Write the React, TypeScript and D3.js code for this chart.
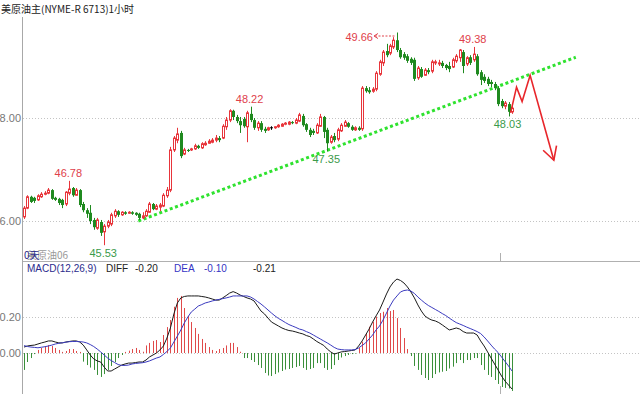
import React from 'react';
import * as d3 from 'd3';

const W = 640;
const H = 394;

const OPEN = [46.08,46.25,46.47,46.45,46.41,46.47,46.52,46.54,46.60,46.45,
46.43,46.41,46.33,46.54,46.64,46.50,46.60,46.33,46.21,46.16,
46.02,45.86,45.98,45.79,45.90,45.94,46.10,46.19,46.12,46.17,
46.16,46.17,46.16,46.14,46.06,46.10,46.17,46.33,46.23,46.27,
46.29,46.49,46.60,47.38,47.57,47.71,47.30,47.38,47.38,47.40,
47.46,47.42,47.48,47.51,47.53,47.57,47.61,47.61,47.83,47.96,
48.14,48.02,47.94,47.98,47.83,48.08,47.96,47.81,47.90,47.79,
47.77,47.81,47.81,47.83,47.84,47.88,47.88,47.92,47.90,47.94,
48.04,47.88,47.77,47.75,47.71,47.84,48.02,47.77,47.53,47.65,
47.59,47.75,47.84,47.90,47.83,47.77,47.81,47.79,48.58,48.54,
48.52,48.56,48.85,49.07,49.30,49.26,49.38,49.51,49.32,49.24,
49.20,49.15,49.13,48.78,48.95,48.83,48.93,48.91,49.07,49.05,
49.07,49.03,49.01,48.99,49.11,49.17,49.28,49.05,49.18,49.13,
49.20,48.89,48.80,48.76,48.70,48.66,48.58,48.33,48.23,48.27,
48.12];

const CLOSE = [46.25,46.47,46.37,46.39,46.49,46.52,46.54,46.60,46.43,46.41,
46.35,46.31,46.56,46.62,46.50,46.60,46.31,46.21,46.14,46.00,
45.88,46.02,45.77,45.90,45.98,46.12,46.19,46.12,46.17,46.14,
46.17,46.14,46.12,46.06,46.10,46.19,46.33,46.23,46.29,46.31,
46.50,46.60,47.38,47.61,47.69,47.26,47.38,47.36,47.40,47.46,
47.42,47.50,47.51,47.55,47.57,47.61,47.57,47.84,47.96,48.14,
48.02,47.94,47.86,47.84,48.10,47.96,47.81,47.90,47.77,47.75,
47.81,47.81,47.83,47.86,47.88,47.90,47.92,47.90,47.96,48.06,
47.86,47.77,47.67,47.71,47.86,48.02,47.73,47.51,47.63,47.57,
47.77,47.86,47.92,47.83,47.77,47.81,47.77,48.58,48.52,48.50,
48.56,48.87,49.09,49.28,49.22,49.40,49.51,49.32,49.18,49.17,
49.11,49.07,48.76,48.97,48.80,48.93,48.89,49.09,49.09,49.07,
49.01,48.97,48.95,49.13,49.20,49.32,49.01,49.17,49.07,49.24,
48.85,48.74,48.72,48.66,48.66,48.58,48.27,48.23,48.29,48.12,
48.19];

const HIGH = [46.29,46.50,46.49,46.47,46.52,46.56,46.58,46.64,46.62,46.47,
46.45,46.43,46.58,46.78,46.66,46.64,46.62,46.37,46.25,46.31,
46.06,46.06,46.02,45.94,46.02,46.16,46.23,46.21,46.19,46.19,
46.19,46.19,46.17,46.16,46.17,46.23,46.37,46.35,46.33,46.35,
46.54,46.66,47.44,47.65,47.81,47.75,47.42,47.40,47.42,47.50,
47.48,47.53,47.55,47.59,47.61,47.67,47.65,47.88,48.02,48.17,
48.16,48.06,48.02,48.02,48.14,48.22,48.00,47.94,47.94,47.83,
47.83,47.84,47.84,47.88,47.90,47.92,47.94,47.94,48.00,48.10,
48.08,47.90,47.81,47.79,47.90,48.08,48.04,47.81,47.67,47.71,
47.81,47.90,47.96,47.92,47.86,47.84,47.84,48.62,48.62,48.60,
48.60,48.91,49.13,49.32,49.44,49.44,49.57,49.66,49.36,49.28,
49.24,49.18,49.17,49.01,48.99,48.97,48.97,49.13,49.13,49.13,
49.11,49.05,49.09,49.17,49.24,49.34,49.32,49.20,49.22,49.38,
49.24,48.93,48.85,48.80,48.74,48.70,48.62,48.37,48.33,48.31,
48.23];

const LOW = [46.04,46.23,46.35,46.35,46.39,46.45,46.50,46.52,46.41,46.39,
46.31,46.25,46.29,46.50,46.47,46.49,46.27,46.17,46.06,45.94,
45.83,45.83,45.71,45.53,45.86,45.90,46.06,46.08,46.10,46.12,
46.14,46.12,46.10,46.02,46.04,46.08,46.16,46.21,46.21,46.19,
46.27,46.45,46.56,47.34,47.51,47.22,47.28,47.34,47.36,47.38,
47.40,47.40,47.46,47.50,47.51,47.53,47.53,47.59,47.77,47.92,
47.96,47.90,47.71,47.81,47.53,47.92,47.77,47.75,47.73,47.71,
47.75,47.77,47.79,47.81,47.83,47.86,47.86,47.88,47.88,47.92,
47.83,47.73,47.63,47.67,47.69,47.83,47.61,47.35,47.50,47.53,
47.55,47.73,47.83,47.81,47.75,47.75,47.75,47.75,48.49,48.47,
48.49,48.52,48.82,49.01,49.18,49.22,49.34,49.28,49.15,49.13,
49.07,49.03,48.72,48.74,48.78,48.82,48.85,48.87,49.03,49.01,
48.97,48.93,48.89,48.97,49.07,49.09,48.87,49.01,49.03,49.09,
48.82,48.64,48.68,48.62,48.60,48.54,48.23,48.19,48.17,48.03,
48.08];

const DIFF = [0.033,0.039,0.042,0.044,0.050,0.056,0.061,0.067,0.067,0.061,
0.056,0.056,0.061,0.064,0.067,0.067,0.061,0.044,0.017,-0.011,
-0.033,-0.044,-0.050,-0.078,-0.100,-0.100,-0.089,-0.078,-0.067,-0.061,
-0.056,-0.056,-0.053,-0.050,-0.050,-0.039,-0.022,-0.011,0.000,0.017,
0.039,0.083,0.139,0.217,0.278,0.306,0.314,0.317,0.317,0.317,
0.317,0.314,0.311,0.306,0.300,0.294,0.294,0.306,0.319,0.333,
0.341,0.333,0.322,0.314,0.306,0.300,0.289,0.261,0.233,0.217,
0.194,0.172,0.161,0.150,0.139,0.131,0.125,0.122,0.117,0.111,
0.106,0.097,0.091,0.078,0.064,0.053,0.042,0.022,0.006,-0.006,
0.000,0.006,0.008,0.011,0.014,0.017,0.039,0.067,0.100,0.133,
0.172,0.206,0.239,0.283,0.328,0.367,0.394,0.411,0.403,0.389,
0.367,0.339,0.306,0.267,0.233,0.206,0.192,0.183,0.178,0.169,
0.156,0.142,0.128,0.133,0.139,0.133,0.119,0.111,0.111,0.111,
0.100,0.067,0.039,0.006,-0.028,-0.061,-0.094,-0.128,-0.156,-0.178,
-0.200];

const DEA = [0.041,0.036,0.033,0.031,0.029,0.032,0.035,0.039,0.044,0.050,
0.054,0.057,0.060,0.063,0.064,0.064,0.063,0.061,0.056,0.047,
0.036,0.022,0.006,-0.011,-0.028,-0.042,-0.053,-0.064,-0.069,-0.069,
-0.067,-0.061,-0.058,-0.056,-0.054,-0.050,-0.044,-0.036,-0.028,-0.022,
-0.008,0.008,0.028,0.061,0.094,0.128,0.167,0.200,0.228,0.244,
0.261,0.269,0.278,0.283,0.289,0.294,0.298,0.302,0.306,0.311,
0.317,0.317,0.317,0.317,0.317,0.311,0.300,0.286,0.272,0.256,
0.239,0.222,0.206,0.192,0.181,0.169,0.158,0.150,0.142,0.133,
0.128,0.119,0.111,0.100,0.089,0.078,0.067,0.056,0.044,0.031,
0.022,0.019,0.017,0.017,0.017,0.019,0.028,0.042,0.056,0.078,
0.100,0.128,0.150,0.183,0.222,0.261,0.294,0.317,0.339,0.347,
0.350,0.344,0.331,0.311,0.294,0.278,0.264,0.253,0.242,0.231,
0.219,0.208,0.194,0.181,0.169,0.161,0.153,0.144,0.136,0.128,
0.119,0.108,0.089,0.067,0.044,0.022,0.003,-0.022,-0.047,-0.072,
-0.100];

const MACD = [-0.094,-0.050,-0.028,-0.006,0.017,0.028,0.035,0.044,0.039,0.028,
0.017,0.006,0.011,0.022,0.022,0.011,0.006,-0.048,-0.067,-0.081,
-0.094,-0.122,-0.133,-0.117,-0.094,-0.072,-0.050,-0.028,-0.011,0.006,
0.013,0.022,0.028,0.017,0.007,0.042,0.056,0.067,0.072,0.061,
0.100,0.144,0.183,0.257,0.306,0.317,0.250,0.206,0.172,0.139,
0.106,0.078,0.056,0.033,0.017,0.011,0.022,0.028,0.042,0.056,
0.056,0.033,0.007,-0.028,-0.028,-0.039,-0.050,-0.067,-0.083,-0.111,
-0.125,-0.128,-0.117,-0.108,-0.100,-0.092,-0.089,-0.083,-0.078,-0.072,
-0.083,-0.094,-0.089,-0.083,-0.056,-0.056,-0.083,-0.094,-0.089,-0.067,
-0.039,-0.025,-0.017,-0.011,-0.006,-0.003,0.028,0.063,0.111,0.146,
0.174,0.202,0.222,0.229,0.250,0.233,0.239,0.194,0.139,0.083,
0.022,-0.017,-0.072,-0.094,-0.122,-0.139,-0.150,-0.139,-0.117,-0.108,
-0.104,-0.100,-0.086,-0.076,-0.056,-0.039,-0.056,-0.039,-0.039,-0.028,
-0.028,-0.067,-0.094,-0.122,-0.133,-0.150,-0.172,-0.189,-0.194,-0.197,
-0.211];

const PRICE_TICKS = [46, 48];
const MACD_TICKS = [0, 0.2];

// annotated extremes: bar index, which value, label
const MARKS = [
  { i: 13, kind: 'high', text: '46.78' },
  { i: 23, kind: 'low', text: '45.53' },
  { i: 65, kind: 'high', text: '48.22' },
  { i: 87, kind: 'low', text: '47.35' },
  { i: 129, kind: 'high', text: '49.38' },
  { i: 139, kind: 'low', text: '48.03' },
];
const PEAK = { i: 107, text: '49.66' };

// trend line (bar index, price)
const TREND = [
  { i: 32.8, p: 46.0 },
  { i: 158.3, p: 49.18 },
];
// projected path (bar index, price)
const PROJECTION = [
  { i: 139.6, p: 48.1 },
  { i: 141.3, p: 48.6 },
  { i: 142.9, p: 48.32 },
  { i: 145.2, p: 48.83 },
  { i: 152.0, p: 47.18 },
];

const HEADER = [
  { t: 'MACD(12,26,9)', x: 27, c: '#2b2b8c' },
  { t: 'DIFF', x: 106, c: '#222' },
  { t: '-0.20', x: 135, c: '#222' },
  { t: 'DEA', x: 174, c: '#3434c4' },
  { t: '-0.10', x: 204, c: '#3434c4' },
  { t: '-0.21', x: 253, c: '#222' },
];

const RED = '#e8353b';
const GREEN = '#1f8a1f';
const LABEL_RED = '#e0404a';
const LABEL_GREEN = '#3a9a4a';
const FONT = '"Liberation Sans", Arial, sans-serif';
const CJK = '"Noto Sans CJK SC", sans-serif';

export default function App() {
  const N = CLOSE.length;
  const x = d3.scaleLinear().domain([0, N - 1]).range([24, 512]);
  const y = d3.scaleLinear().domain([46, 48]).range([221, 118]);
  const ym = d3.scaleLinear().domain([0, 0.2]).range([353, 317]);

  const diffLine = d3.line<number>().x((_, i) => x(i)).y((d) => ym(d))(DIFF) || '';
  const deaLine = d3.line<number>().x((_, i) => x(i)).y((d) => ym(d))(DEA) || '';
  const trendPath = d3.line<{ i: number; p: number }>().x((d) => x(d.i)).y((d) => y(d.p))(TREND) || '';
  const projPath = d3.line<{ i: number; p: number }>().x((d) => x(d.i)).y((d) => y(d.p))(PROJECTION) || '';

  const tip = PROJECTION[PROJECTION.length - 1];
  const tx = x(tip.i);
  const ty = y(tip.p);

  const peakX = x(PEAK.i);
  const peakY = y(HIGH[PEAK.i]);

  return (
    <svg width={W} height={H} style={{ position: 'absolute', left: 0, top: 0, background: '#fff' }}>
      <rect x={0} y={0} width={W} height={H} fill="#fff" />
      {/* title */}
      <text x={1} y={13} fontFamily={CJK} fontSize={10} fill="#222">美原油主(NYME-R 6713)1小时</text>

      {/* grid lines */}
      {PRICE_TICKS.map((t) => (
        <g key={'p' + t}>
          <line x1={23} x2={W} y1={Math.round(y(t)) + 0.5} y2={Math.round(y(t)) + 0.5} stroke="#c4c4c4" strokeDasharray="1,2" />
          <text x={21} y={y(t) + 4} textAnchor="end" fontFamily={FONT} fontSize={11} fill="#777">{t.toFixed(2)}</text>
        </g>
      ))}
      {MACD_TICKS.map((t) => (
        <g key={'m' + t}>
          <line x1={23} x2={W} y1={Math.round(ym(t)) + 0.5} y2={Math.round(ym(t)) + 0.5} stroke="#c4c4c4" strokeDasharray="1,2" />
          <text x={21} y={ym(t) + 4} textAnchor="end" fontFamily={FONT} fontSize={11} fill="#777">{t.toFixed(2)}</text>
        </g>
      ))}

      {/* frame */}
      <line x1={22.5} x2={22.5} y1={17} y2={H} stroke="#a8a8a8" />
      <line x1={23} x2={W} y1={261.5} y2={261.5} stroke="#b0b0b0" />
      <line x1={500.5} x2={500.5} y1={253} y2={261} stroke="#b0b0b0" />
      <line x1={500.5} x2={500.5} y1={386} y2={H} stroke="#b0b0b0" />

      {/* trend line */}
      <path d={trendPath} fill="none" stroke="#2fe22f" strokeWidth={3} strokeDasharray="3,2.6" />

      {/* candles */}
      {CLOSE.map((c, i) => {
        const o = OPEN[i];
        const cx = Math.round(x(i));
        const up = c > o;
        const flat = c === o;
        const col = flat ? '#000' : up ? RED : GREEN;
        const yt = y(Math.max(o, c));
        const yb = y(Math.min(o, c));
        return (
          <g key={i}>
            <line x1={cx + 0.5} x2={cx + 0.5} y1={y(HIGH[i])} y2={y(LOW[i])} stroke={col} strokeWidth={1} />
            {flat ? (
              <line x1={cx - 1} x2={cx + 2} y1={yt} y2={yt} stroke="#000" />
            ) : up ? (
              <rect x={cx - 0.5} y={yt} width={2} height={Math.max(yb - yt, 1)} fill="#fff" stroke={RED} strokeWidth={1} />
            ) : (
              <rect x={cx - 1} y={yt} width={3} height={Math.max(yb - yt, 1)} fill={GREEN} />
            )}
          </g>
        );
      })}

      {/* projection arrow */}
      <path d={projPath} fill="none" stroke="#e8262b" strokeWidth={1.6} strokeLinejoin="miter" />
      <path d={`M${tx - 10.7},${ty - 10} L${tx},${ty} L${tx + 2.7},${ty - 14.7}`} fill="none" stroke="#e8262b" strokeWidth={1.6} />

      {/* extreme labels */}
      {MARKS.map((m) => {
        const hi = m.kind === 'high';
        const v = hi ? HIGH[m.i] : LOW[m.i];
        return (
          <text key={m.text} x={x(m.i) - 1} y={hi ? y(v) - 4 : y(v) + 11.5} textAnchor="middle" fontFamily={FONT} fontSize={11} fill={hi ? LABEL_RED : LABEL_GREEN}>{m.text}</text>
        );
      })}
      <text x={peakX - 24} y={peakY + 8.5} textAnchor="end" fontFamily={FONT} fontSize={11} fill={LABEL_RED}>{PEAK.text}</text>
      <line x1={peakX - 22} x2={peakX - 1} y1={peakY + 3.5} y2={peakY + 3.5} stroke={LABEL_RED} strokeDasharray="2,1.5" />
      <path d={`M${peakX - 19},${peakY + 1} L${peakX - 23},${peakY + 3.5} L${peakX - 19},${peakY + 6}`} fill="none" stroke={LABEL_RED} />

      {/* contract label */}
      <text x={27} y={259} fontFamily={CJK} fontSize={10} fill="#999">美原油06</text>
      <text x={24} y={259} fontFamily={CJK} fontSize={10} fill="#2b2b8c">0天</text>

      {/* MACD header */}
      {HEADER.map((h) => (
        <text key={h.t + h.x} x={h.x} y={272} fontFamily={FONT} fontSize={10} fill={h.c}>{h.t}</text>
      ))}

      {/* histogram */}
      {MACD.map((v, i) => {
        const cx = Math.round(x(i)) + 0.5;
        return <line key={'h' + i} x1={cx} x2={cx} y1={ym(0)} y2={ym(v)} stroke={v >= 0 ? '#e04a4a' : '#3a8f3a'} strokeWidth={1} />;
      })}
      <path d={diffLine} fill="none" stroke="#1a1a1a" strokeWidth={1} />
      <path d={deaLine} fill="none" stroke="#3b3bbf" strokeWidth={1} />
    </svg>
  );
}
